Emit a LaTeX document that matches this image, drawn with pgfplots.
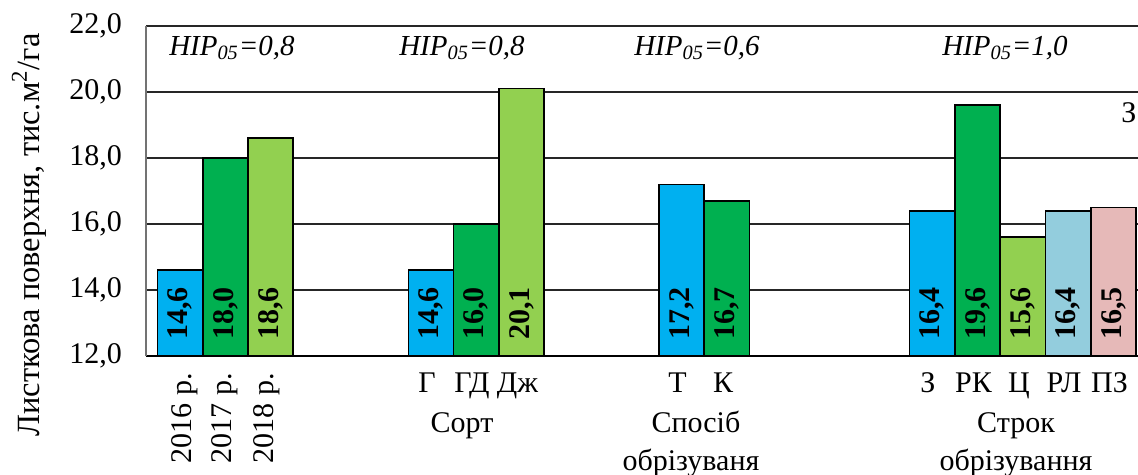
\documentclass[border=0pt]{standalone}
\usepackage{fontspec}
\setmainfont{Liberation Serif}
\usepackage{pgfplots}
\pgfplotsset{compat=1.18}
\definecolor{cblue}{HTML}{00B0F0}
\definecolor{cdgreen}{HTML}{00B050}
\definecolor{clgreen}{HTML}{92D050}
\definecolor{clblue}{HTML}{93CDDD}
\definecolor{cpink}{HTML}{E6B9B8}
\newcommand{\fs}{\fontsize{15}{17}\selectfont}
\newcommand{\fsi}{\fontsize{14.5}{17}\selectfont}
\begin{document}
\begin{tikzpicture}
\begin{axis}[
  x=0.5pt, y=16.5pt,
  xmin=146, xmax=1160, ymin=12, ymax=22,
  clip=false,
  axis lines=left, axis line style={-},
  x axis line style={black, line width=1pt},
  y axis line style={black!55, line width=1pt},
  ytick={12,14,16,18,20,22},
  yticklabel={\pgfmathprintnumber[fixed,fixed zerofill,precision=1,use comma,assume math mode=true]{\tick}},
  yticklabel style={xshift=-8.5pt},
  ymajorgrids, grid style={black!85, line width=0.9pt},
  major tick length=0pt,
  tick label style={font=\fs},
  xtick={180,225.5,270.5,431,476,521.5,681.5,727,932,977.5,1023,1068,1113.5},
  xticklabels={\hspace*{9pt}\rotatebox{90}{2016 р.},\hspace*{3pt}\rotatebox{90}{2017 р.},\rotatebox{90}{2018 р.},Г,ГД,Дж,Т,К,З,РК,Ц,РЛ,ПЗ},
  xticklabel style={yshift=-5pt, xshift=-2pt},
]
\addplot[ybar, bar width=45, bar shift=0pt, fill=cblue, draw=black, line width=0.75pt]
  coordinates {(180,14.6) (431,14.6) (681.5,17.2) (932,16.4)};
\addplot[ybar, bar width=45, bar shift=0pt, fill=cdgreen, draw=black, line width=0.75pt]
  coordinates {(225.5,18.0) (476,16.0) (727,16.7) (977.5,19.6)};
\addplot[ybar, bar width=45, bar shift=0pt, fill=clgreen, draw=black, line width=0.75pt]
  coordinates {(270.5,18.6) (521.5,20.1) (1023,15.6)};
\addplot[ybar, bar width=45, bar shift=0pt, fill=clblue, draw=black, line width=0.75pt]
  coordinates {(1068,16.4)};
\addplot[ybar, bar width=45, bar shift=0pt, fill=cpink, draw=black, line width=0.75pt]
  coordinates {(1113.5,16.5)};
% value labels at the bottom of each bar
\addplot[only marks, mark=*, mark size=0pt, mark options={draw=none, fill=none},
  point meta=explicit,
  nodes near coords={\pgfmathprintnumber[fixed,fixed zerofill,precision=1,use comma,assume math mode=true]{\pgfplotspointmeta}},
  every node near coord/.append style={rotate=90, anchor=west, inner xsep=8pt, inner ysep=0pt, font=\bfseries\fs, text=black}]
  table[x=x, y=y, meta=v] {
x y v
180 12 14.6
225.5 12 18.0
270.5 12 18.6
431 12 14.6
476 12 16.0
521.5 12 20.1
681.5 12 17.2
727 12 16.7
932 12 16.4
977.5 12 19.6
1023 12 15.6
1068 12 16.4
1113.5 12 16.5
};
\node[font=\itshape\fsi, anchor=base] at (axis cs:232,21.12) {НІР\textsubscript{05}=0,8};
\node[font=\itshape\fsi, anchor=base] at (axis cs:462,21.12) {НІР\textsubscript{05}=0,8};
\node[font=\itshape\fsi, anchor=base] at (axis cs:697,21.12) {НІР\textsubscript{05}=0,6};
\node[font=\itshape\fsi, anchor=base] at (axis cs:1005,21.12) {НІР\textsubscript{05}=1,0};
\node[font=\fs, anchor=base west, inner sep=0pt] at (axis cs:1121,19.09) {З};
\node[font=\fs, anchor=base] at (axis cs:462,9.697) {Сорт};
\node[font=\fs, anchor=base] at (axis cs:696,9.697) {Спосіб};
\node[font=\fs, anchor=base] at (axis cs:691,8.545) {обрізуваня};
\node[font=\fs, anchor=base] at (axis cs:1016,9.697) {Строк};
\node[font=\fs, anchor=base] at (axis cs:1016,8.545) {обрізування};
\node[font=\fontsize{16.2}{18}\selectfont, rotate=90, anchor=center] at (axis cs:29,15.67) {Листкова поверхня, тис.м\textsuperscript{2}/га};
\coordinate (bl) at (axis cs:0,8.394);
\coordinate (tr) at (axis cs:1138,22.788);
\end{axis}
\pgfresetboundingbox
\useasboundingbox (bl) rectangle (tr);
\end{tikzpicture}
\end{document}
